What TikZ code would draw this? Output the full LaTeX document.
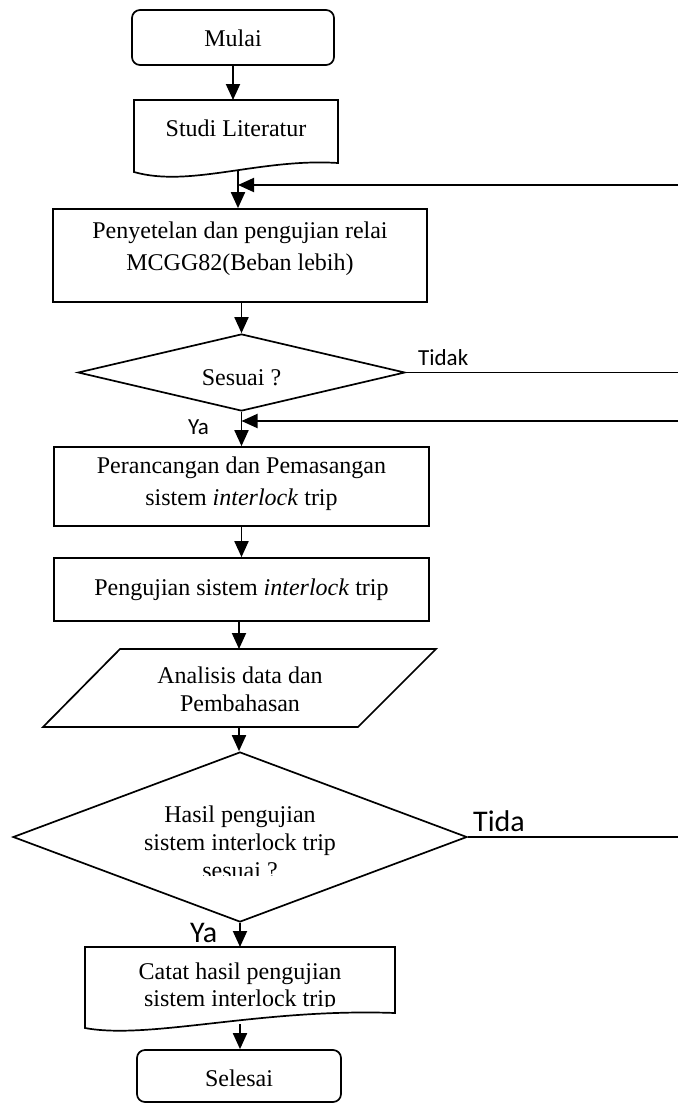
\documentclass[tikz,border=0pt]{standalone}
\usepackage{fontspec}
\setmainfont{Liberation Serif}
\newfontfamily\labfont{Carlito}
\usetikzlibrary{shapes.geometric,arrows.meta}
\begin{document}
\begin{tikzpicture}[x=1pt,y=-1pt,
  box/.style={draw,line width=1.7pt,inner sep=0pt},
  rbox/.style={box,rounded corners=8pt},
  dia/.style={draw,diamond,line width=1.7pt,inner sep=0pt},
  shp/.style={draw,line width=1.7pt,line join=miter},
  txt/.style={align=center,font=\fontsize{24}{32}\selectfont,inner sep=0pt},
  txtb/.style={align=center,font=\fontsize{24}{28}\selectfont,inner sep=0pt},
  arr/.style={line width=1.9pt,-{Triangle[length=16pt,width=14pt]}},
  ln/.style={line width=1.9pt},
  lab/.style={font=\labfont\fontsize{23}{28}\selectfont,inner sep=0pt},
  biglab/.style={font=\labfont\fontsize{30}{36}\selectfont,inner sep=0pt}]
\useasboundingbox (0,0) rectangle (678,1104);

% Mulai
\node[rbox,minimum width=202pt,minimum height=55pt] (mulai) at (233,37.5) {};
\node[txt] (tmulai) at (233,38) {Mulai};

% Studi Literatur (document shape)
\draw[shp] (134,100) -- (338,100) -- (338,163)
  .. controls (260,158) and (190,188) .. (134,172) -- cycle;
\coordinate (studiT) at (235,100);
\coordinate (studiB) at (238,170);
\node[txt] (tstudi) at (236,128) {Studi Literatur};

% Penyetelan
\node[box,minimum width=374pt,minimum height=93pt] (pen) at (240,255.5) {};
\node[txt] (tpen) at (240,249) {Penyetelan dan pengujian relai\\MCGG82(Beban lebih)};

% Sesuai ?
\node[dia,minimum width=327pt,minimum height=77pt] (ses) at (241.5,372.5) {};
\node[txt] (tses) at (241.5,378) {Sesuai ?};

% Perancangan
\node[box,minimum width=375pt,minimum height=79pt] (per) at (241.5,486.5) {};
\node[txt] (tper) at (241.5,484) {Perancangan dan Pemasangan\\sistem \textit{interlock} trip};

% Pengujian
\node[box,minimum width=375pt,minimum height=63pt] (peng) at (241.5,589.5) {};
\node[txt] (tpeng) at (241.5,590) {Pengujian sistem \textit{interlock} trip};

% Analisis (parallelogram)
\draw[shp] (120,649) -- (436,649) -- (358,727) -- (43,727) -- cycle;
\coordinate (anT) at (239,649);
\coordinate (anB) at (239,727);
\node[txtb] (tan) at (240,689) {Analisis data dan\\Pembahasan};

% Hasil pengujian diamond
\node[dia,minimum width=454pt,minimum height=170pt] (hasil) at (240,837) {};
\begin{scope}
  \clip (0,0) rectangle (678,875);
  \node[txtb] (thasil) at (240,842) {Hasil pengujian\\sistem interlock trip\\sesuai ?};
\end{scope}

% Catat (document shape)
\draw[shp] (85,947) -- (395,947) -- (395,1013)
  .. controls (260,1008) and (150,1040) .. (85,1028) -- cycle;
\coordinate (catT) at (240,947);
\coordinate (catB) at (240,1024);
\begin{scope}
  \clip (0,0) rectangle (678,1006);
  \node[align=center,font=\fontsize{24}{27}\selectfont,inner sep=0pt] (tcat) at (240,987) {Catat hasil pengujian\\sistem interlock trip};
\end{scope}

% Selesai
\node[rbox,minimum width=204pt,minimum height=52pt] (sel) at (239,1076) {};
\node[txt] (tsel) at (239,1078) {Selesai};

% right-side free ends
\coordinate (fb1) at (678,185);
\coordinate (r2) at (678,372.5);
\coordinate (fb2) at (678,421);
\coordinate (r4) at (678,837);

% connectors
\draw[arr] (mulai.south) -- (mulai.south |- studiT);
\draw[arr] (studiB) -- (studiB |- pen.north);
\draw[arr] (fb1) -- (fb1 -| studiB);
\draw[arr] (pen.south -| ses.north) -- (ses.north);
\draw[ln] (ses.east) -- (r2);
\draw[arr] (ses.south) -- (ses.south |- per.north);
\draw[arr] (fb2) -- (fb2 -| ses.south);
\draw[arr] (per.south) -- (peng.north);
\draw[arr] (peng.south -| anT) -- (anT);
\draw[arr] (anB) -- (anB |- hasil.north);
\draw[ln] (hasil.east) -- (r4);
\draw[arr] (hasil.south) -- (catT);
\draw[arr] (catB) -- (catB |- sel.north);

% labels
\node[lab,anchor=base west] (ltidak) at (418,365) {Tidak};
\node[lab,anchor=base west] (lya1) at (188,434) {Ya};
\node[biglab,anchor=base west] (ltida) at (473,831) {Tida};
\node[biglab,anchor=base west] (lya2) at (190,942) {Ya};
\end{tikzpicture}
\end{document}
